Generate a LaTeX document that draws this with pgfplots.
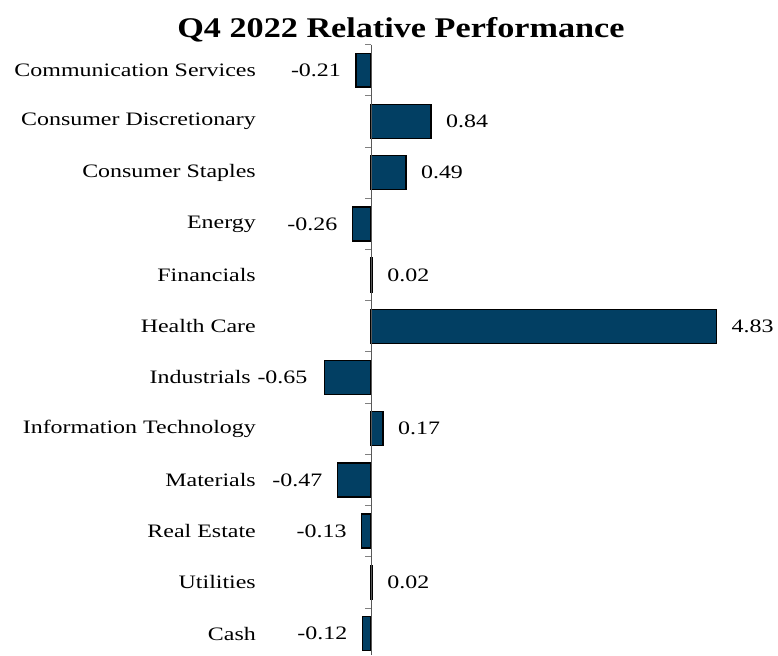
\documentclass[border=0pt]{standalone}
\usepackage{fontspec}
\setmainfont{Liberation Serif}[FakeStretch=1.26]
\newfontfamily\titlefont{Liberation Serif}[FakeStretch=1.2]
\usepackage{pgfplots}
\usepackage{pgfplotstable}
\pgfplotsset{compat=1.18}
\definecolor{barblue}{RGB}{2,63,99}
\pgfplotstableread{
idx val lbl dx
0 -0.21 -0.21 -40
1 0.84 0.84 36
2 0.49 0.49 36
3 -0.26 -0.26 -40
4 0.02 0.02 36
5 4.83 4.83 36
6 -0.65 -0.65 -42
7 0.17 0.17 36
8 -0.47 -0.47 -40
9 -0.13 -0.13 -40
10 0.02 0.02 36
11 -0.12 -0.12 -40
}\data
\begin{document}
\begin{tikzpicture}
\begin{axis}[
  scale only axis, width=516.7pt, height=610.4pt,
  xmin=-1.532, xmax=5.687, ymin=-0.5, ymax=11.417,
  y dir=reverse, clip=false,
  axis line style={draw=none},
  xtick=\empty,
  ytick={0,1,2,3,4,5,6,7,8,9,10,11},
  yticklabels={Communication Services, Consumer Discretionary, Consumer Staples, Energy, Financials, Health Care, {Industrials\kern5pt}, Information Technology, Materials, Real Estate, Utilities, Cash},
  major tick length=0pt,
  yticklabel style={font=\fontsize{19}{22}\selectfont, anchor=east, xshift=-2pt},
  xbar, bar width=34pt, bar shift=0pt,
  nodes near coords,
  point meta=explicit symbolic,
]
\addplot[fill=barblue, draw=black, line width=1.4pt,
  visualization depends on={\thisrow{dx}\as\dx},
  every node near coord/.append style={font=\fontsize{19}{22}\selectfont, anchor=center, xshift=\dx pt, text=black}]
  table[x=val, y=idx, meta=lbl] {\data};
\draw[black!65, line width=0.8pt] (axis cs:0,-0.5) -- (axis cs:0,11.417);
\draw[black!50, line width=0.8pt]
  (axis cs:0,-0.5) -- ([xshift=-6pt]axis cs:0,-0.5)
  (axis cs:0,0.5) -- ([xshift=-6pt]axis cs:0,0.5)
  (axis cs:0,1.5) -- ([xshift=-6pt]axis cs:0,1.5)
  (axis cs:0,2.5) -- ([xshift=-6pt]axis cs:0,2.5)
  (axis cs:0,3.5) -- ([xshift=-6pt]axis cs:0,3.5)
  (axis cs:0,4.5) -- ([xshift=-6pt]axis cs:0,4.5)
  (axis cs:0,5.5) -- ([xshift=-6pt]axis cs:0,5.5)
  (axis cs:0,6.5) -- ([xshift=-6pt]axis cs:0,6.5)
  (axis cs:0,7.5) -- ([xshift=-6pt]axis cs:0,7.5)
  (axis cs:0,8.5) -- ([xshift=-6pt]axis cs:0,8.5)
  (axis cs:0,9.5) -- ([xshift=-6pt]axis cs:0,9.5)
  (axis cs:0,10.5) -- ([xshift=-6pt]axis cs:0,10.5);
\node[anchor=base, font=\titlefont\fontsize{28.5}{32}\selectfont\bfseries] at (axis cs:0.419,-0.64) {Q4 2022 Relative Performance};
\path (axis cs:-5.184,-1.371) rectangle (axis cs:5.687,11.417);
\end{axis}
\end{tikzpicture}
\end{document}
